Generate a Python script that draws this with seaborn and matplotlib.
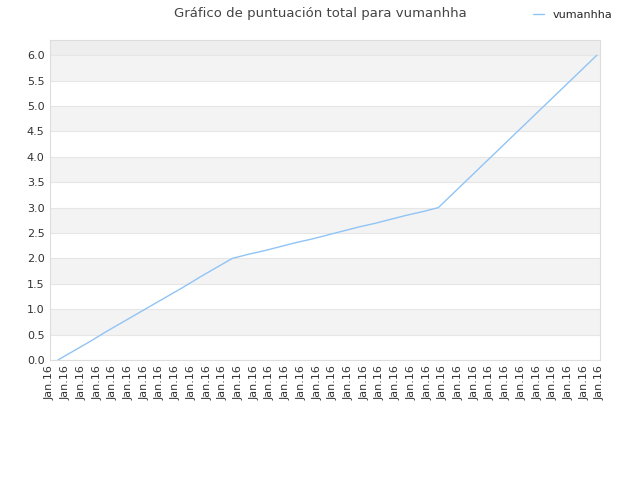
import numpy as np
import pandas as pd
import matplotlib
matplotlib.use("Agg")
import matplotlib.pyplot as plt
import seaborn as sns

days = list(range(35))
scores = [0, 0.18, 0.36, 0.55, 0.73, 0.91, 1.09, 1.27, 1.45, 1.64, 1.82, 2.0,
          2.08, 2.15, 2.23, 2.31, 2.38, 2.46, 2.54, 2.62, 2.69, 2.77, 2.85, 2.92, 3.0,
          3.3, 3.6, 3.9, 4.2, 4.5, 4.8, 5.1, 5.4, 5.7, 6.0]
tick_labels = ["Jan.16"] * 36

df = pd.DataFrame({"day": days, "score": scores, "player": "vumanhha"})

sns.set_style("white")
plt.rcParams['font.family'] = ['DejaVu Sans']
fig = plt.figure(figsize=(6.4, 4.8), dpi=100)
ax = fig.add_axes([50 / 640, 120 / 480, 550 / 640, 320 / 480])

# stripes
for k in range(12):
    if k % 2 == 1:
        ax.axhspan(k * 0.5, (k + 1) * 0.5, color="#f3f3f3", zorder=0, lw=0)
ax.axhspan(6.0, 6.3, color="#eeeeee", zorder=0, lw=0)
for k in range(13):
    ax.axhline(k * 0.5, color="#e6e6e6", lw=0.8, zorder=0.5)

sns.lineplot(data=df, x="day", y="score", hue="player", palette=["#90c4f5"],
             lw=1, ax=ax)

x0, x1 = -0.5, 34.2
ax.set_xlim(x0, x1)
ax.set_ylim(0, 6.3)
ax.set_xticks(np.linspace(x0, x1, 36))
ax.set_xticklabels(tick_labels, rotation=90, fontsize=8, color="#333333")
ax.set_yticks(np.arange(0, 6.01, 0.5))
ax.set_yticklabels([f"{v:.1f}" for v in np.arange(0, 6.01, 0.5)], fontsize=8, color="#333333")
ax.set_xlabel("")
ax.set_ylabel("")
for s in ax.spines.values():
    s.set_color("#dddddd")
ax.tick_params(length=0, pad=4)

leg = ax.legend(loc="upper left", bbox_to_anchor=(0.86, 1.125), frameon=False,
                fontsize=8, handlelength=1, title=None)
fig.suptitle("Gráfico de puntuación total para vumanhha", x=0.5, y=0.985,
             fontsize=9.5, color="#444444")
fig.savefig("out.png", dpi=100)
